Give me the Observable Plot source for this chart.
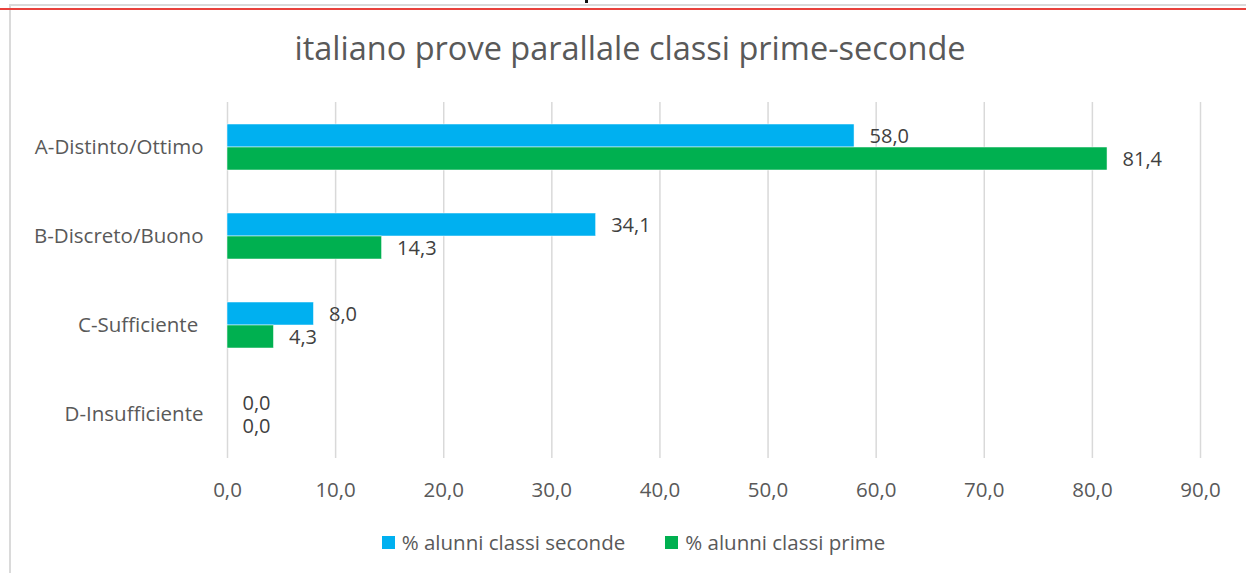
<!DOCTYPE html>
<html>
<head>
<meta charset="utf-8">
<script src="https://cdn.jsdelivr.net/npm/d3@7"></script>
<script src="https://cdn.jsdelivr.net/npm/@observablehq/plot@0.6"></script>
<style>
  html, body { margin: 0; padding: 0; background: #fff; }
  #page { position: relative; width: 1246px; height: 573px; overflow: hidden; font-family: "Open Sans", Lato, sans-serif; }
  #frame { position: absolute; left: 9px; top: 4px; width: 1245px; height: 580px; border: 2px solid #dadada; box-sizing: border-box; }
  #redline { position: absolute; left: 0; top: 8px; width: 1246px; height: 2px; background: #e8413c; }
  #dot { position: absolute; left: 585px; top: 0; width: 3px; height: 3px; background: #111; }
  #title { position: absolute; left: 0; width: 1260px; top: 25px; text-align: center; font-size: 32.5px; color: #595959; font-weight: 400; }
  #chart { position: absolute; left: 0; top: 0; }
  #legend { position: absolute; left: 0; width: 1267px; top: 528px; display: flex; justify-content: center; gap: 40px; font-size: 20.5px; color: #595959; }
  .item { display: flex; align-items: center; gap: 7px; }
  .sw { width: 13px; height: 13px; display: inline-block; }
</style>
</head>
<body>
<div id="page">
  <div id="frame"></div>
  <div id="redline"></div>
  <div id="dot"></div>
  <div id="title">italiano prove parallale classi prime-seconde</div>
  <div id="chart"></div>
  <div id="legend"></div>
</div>
<script>
const categories = ["A-Distinto/Ottimo", "B-Discreto/Buono", "C-Sufficiente\u00a0", "D-Insufficiente"];
const series = ["% alunni classi seconde", "% alunni classi prime"];
const seconde = [58.0, 34.1, 8.0, 0.0];
const prime = [81.4, 14.3, 4.3, 0.0];
const xTicks = [0, 10, 20, 30, 40, 50, 60, 70, 80, 90];
const colors = ["#00B0F0", "#00B050"];

const fmt = d => d.toFixed(1).replace(".", ",");

const data = [];
categories.forEach((c, i) => {
  data.push({category: c, series: series[0], value: seconde[i]});
  data.push({category: c, series: series[1], value: prime[i]});
});

const chart = Plot.plot({
  width: 1246,
  height: 508,
  marginTop: 102,
  marginBottom: 50,
  marginLeft: 227,
  marginRight: 46,
  style: {fontFamily: "'Open Sans', Lato, sans-serif", background: "transparent"},
  x: {domain: [0, 90], ticks: xTicks},
  y: {domain: series, paddingInner: 0, paddingOuter: 0.92, axis: null},
  fy: {domain: categories, padding: 0},
  color: {domain: series, range: colors},
  marks: [
    Plot.ruleX(xTicks, {stroke: "#d9d9d9", strokeWidth: 1.5}),
    Plot.barX(data, {fy: "category", y: "series", x: "value", fill: "series", stroke: "#fff", strokeWidth: 0.5}),
    Plot.text(data, {fy: "category", y: "series", x: "value", text: d => fmt(d.value), textAnchor: "start", dx: 15, dy: 1, fontSize: 20, fill: "#404040"}),
    Plot.axisX({ticks: xTicks, tickFormat: fmt, tickSize: 0, tickPadding: 24, fontSize: 20.5, fill: "#595959", label: null}),
    Plot.axisFy({anchor: "left", tickSize: 0, tickPadding: 24, fontSize: 20.5, fill: "#595959", label: null})
  ]
});
document.getElementById("chart").appendChild(chart);

const legend = document.getElementById("legend");
series.forEach((s, i) => {
  const it = document.createElement("div");
  it.className = "item";
  const sw = document.createElement("span");
  sw.className = "sw";
  sw.style.background = colors[i];
  const t = document.createElement("span");
  t.textContent = s;
  it.appendChild(sw); it.appendChild(t);
  legend.appendChild(it);
});
</script>
</body>
</html>
